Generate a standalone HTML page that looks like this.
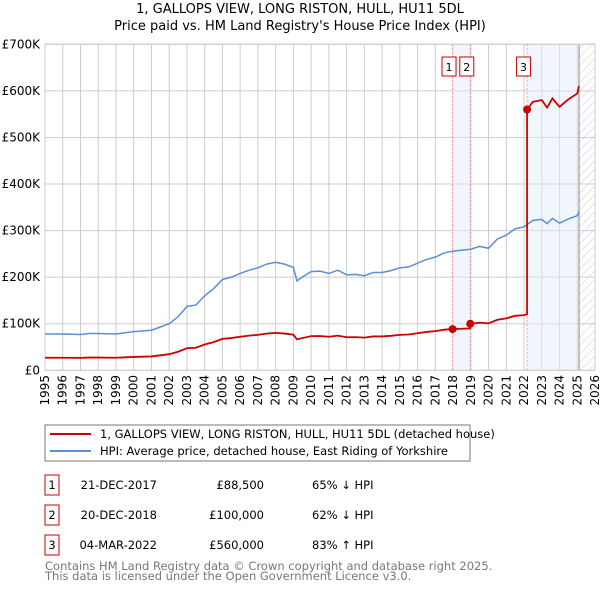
<!DOCTYPE html>
<html><head><meta charset="utf-8"><style>
body{margin:0;background:#fff;font-family:"DejaVu Sans","Liberation Sans",sans-serif;}
svg text{font-family:"DejaVu Sans","Liberation Sans",sans-serif;}
</style></head><body>
<svg id="c" width="600" height="590" xmlns="http://www.w3.org/2000/svg">
<defs><pattern id="hatch" width="6" height="6" patternUnits="userSpaceOnUse" patternTransform="rotate(45)"><line x1="0" y1="0" x2="0" y2="6" stroke="#ccc" stroke-width="1"/></pattern></defs>
<text x="300" y="13" text-anchor="middle" font-size="13" fill="#000">1, GALLOPS VIEW, LONG RISTON, HULL, HU11 5DL</text>
<text x="300" y="30" text-anchor="middle" font-size="13" fill="#000">Price paid vs. HM Land Registry's House Price Index (HPI)</text>
<g id="grid"></g><g id="bands"></g><g id="series"></g><g id="marks"></g>
<rect x="45" y="425" width="425" height="36" fill="#fff" stroke="#777"/>
<line x1="50" y1="434" x2="91" y2="434" stroke="#cc0000" stroke-width="2"/>
<text x="100" y="438" font-size="11.5">1, GALLOPS VIEW, LONG RISTON, HULL, HU11 5DL (detached house)</text>
<line x1="50" y1="451" x2="91" y2="451" stroke="#5b8fd4" stroke-width="2"/>
<text x="100" y="455" font-size="11.5">HPI: Average price, detached house, East Riding of Yorkshire</text>
<g id="table"></g>
<text x="45" y="570" font-size="11.5" fill="#777">Contains HM Land Registry data © Crown copyright and database right 2025.</text>
<text x="45" y="580" font-size="11.5" fill="#777">This data is licensed under the Open Government Licence v3.0.</text>
</svg>
<script>
const hpiYears=[1995,1996,1997,1997.5,1998,1999,2000,2001,2001.5,2002,2002.5,2003,2003.5,2004,2004.5,2005,2005.5,2006,2006.5,2007,2007.5,2008,2008.5,2009,2009.2,2009.5,2010,2010.5,2011,2011.5,2012,2012.5,2013,2013.5,2014,2014.5,2015,2015.5,2016,2016.5,2017,2017.5,2018,2018.5,2019,2019.5,2020,2020.5,2021,2021.5,2022,2022.5,2023,2023.3,2023.6,2024,2024.5,2025,2025.1];
const hpiValues=[78,78,77,79,79,78,83,86,93,100,115,137,140,160,175,195,200,208,215,220,228,232,228,221,192,200,212,213,208,215,205,206,203,210,210,214,220,222,230,238,243,252,256,258,260,266,262,282,290,304,308,322,324,315,326,316,325,332,341];
const saleYears=[2017.97,2018.97,2022.17];
const salePrices=[88500,100000,560000];
const saleLabels=["1","2","3"];
const saleDates=["21-DEC-2017","20-DEC-2018","04-MAR-2022"];
const salePriceText=["£88,500","£100,000","£560,000"];
const saleHpiText=["65% ↓ HPI","62% ↓ HPI","83% ↑ HPI"];
const yTicks=[0,100,200,300,400,500,600,700];
const yTickLabels=["£0","£100K","£200K","£300K","£400K","£500K","£600K","£700K"];
const xTicks=[];for(let y=1995;y<=2026;y++)xTicks.push(y);

const NS="http://www.w3.org/2000/svg";
const X0=45,X1=595,Y0=370.3,Y1=44.3;
const xs=y=>X0+(y-1995)/(2026-1995)*(X1-X0);
const ys=v=>Y0-v/700*(Y0-Y1);
function mk(tag,attrs,parent,txt){const e=document.createElementNS(NS,tag);for(const k in attrs)e.setAttribute(k,attrs[k]);if(txt!==undefined)e.textContent=txt;document.getElementById(parent).appendChild(e);return e;}
function hpiAt(y){for(let i=0;i<hpiYears.length-1;i++){if(y>=hpiYears[i]&&y<=hpiYears[i+1]){const t=(y-hpiYears[i])/(hpiYears[i+1]-hpiYears[i]);return hpiValues[i]+t*(hpiValues[i+1]-hpiValues[i]);}}return hpiValues[hpiValues.length-1];}

yTicks.forEach((v,i)=>{
 let e=mk('line',{x1:X0,x2:X1,y1:ys(v),y2:ys(v),stroke:'#ccc'},'grid');
 
 e=mk('text',{x:40,y:ys(v)+4,'text-anchor':'end','font-size':'12'},'grid',yTickLabels[i]);
 
});
xTicks.forEach(y=>{
 let e=mk('line',{x1:xs(y),x2:xs(y),y1:Y1,y2:Y0,stroke:'#ccc'},'grid');
 
 e=mk('text',{x:0,y:0,'text-anchor':'end','font-size':'12',transform:`translate(${xs(y)+4},375) rotate(-90)`},'grid',String(y));
 
});
const endY=hpiYears[hpiYears.length-1];
let b=mk('rect',{x:xs(saleYears[0]),y:Y1,width:xs(saleYears[1])-xs(saleYears[0]),height:Y0-Y1,fill:'#e4ecfa',opacity:0.5},'bands');

b=mk('rect',{x:xs(saleYears[2]),y:Y1,width:xs(endY)-xs(saleYears[2]),height:Y0-Y1,fill:'#e4ecfa',opacity:0.5},'bands');

b=mk('rect',{x:xs(endY),y:Y1,width:X1-xs(endY),height:Y0-Y1,fill:'url(#hatch)'},'bands');

b=mk('line',{x1:xs(endY),x2:xs(endY),y1:Y1,y2:Y0,stroke:'#888'},'bands');

b=mk('rect',{x:X0,y:Y1,width:X1-X0,height:Y0-Y1,fill:'none',stroke:'#ccc'},'bands');

saleYears.forEach((sy,i)=>{
 let e=mk('line',{x1:xs(sy),x2:xs(sy),y1:Y1,y2:Y0,stroke:'#f08080','stroke-dasharray':'2,2','stroke-width':0.8},'bands');
 
});
let pts=hpiYears.map((y,i)=>xs(y)+','+ys(hpiValues[i])).join(' ');
let h=mk('polyline',{points:pts,fill:'none',stroke:'#5b8fd4','stroke-width':1.5},'series');

let rp=[];
hpiYears.forEach(y=>{
 let idx=-1;saleYears.forEach((s,i)=>{if(y>=s)idx=i;});
 const si=Math.max(idx,0);
 const f=salePrices[si]/1000/hpiAt(saleYears[si]);
 rp.push([y,hpiAt(y)*f]);
});
saleYears.forEach((s,i)=>{
 if(i>0){const f0=salePrices[i-1]/1000/hpiAt(saleYears[i-1]);rp.push([s-0.0001,hpiAt(s)*f0]);}
 rp.push([s,salePrices[i]/1000]);
});
rp.sort((a,b)=>a[0]-b[0]);
let r=mk('polyline',{points:rp.map(p=>xs(p[0])+','+ys(p[1])).join(' '),fill:'none',stroke:'#cc0000','stroke-width':1.8},'series');

saleYears.forEach((sy,i)=>{
 let e=mk('circle',{cx:xs(sy),cy:ys(salePrices[i]/1000),r:4,fill:'#cc0000'},'marks');
 
 const bx=xs(sy)-10.5;
 e=mk('rect',{x:bx,y:57,width:14,height:19,fill:'#fff',stroke:'#cc0000'},'marks');
 
 e=mk('text',{x:bx+7,y:71,'text-anchor':'middle','font-size':'11'},'marks',saleLabels[i]);
 
});
saleYears.forEach((sy,i)=>{
 const ty=475+i*30;
 let e=mk('rect',{x:45,y:ty,width:14,height:20,fill:'#fff',stroke:'#cc0000'},'table');
 
 e=mk('text',{x:52,y:ty+14,'text-anchor':'middle','font-size':'11.5'},'table',saleLabels[i]);
 
 e=mk('text',{x:157,y:ty+14,'text-anchor':'end','font-size':'11.5'},'table',saleDates[i]);
 
 e=mk('text',{x:264,y:ty+14,'text-anchor':'end','font-size':'11.5'},'table',salePriceText[i]);
 
 e=mk('text',{x:312,y:ty+14,'font-size':'11.5'},'table',saleHpiText[i]);
 
});
</script>
</body></html>
